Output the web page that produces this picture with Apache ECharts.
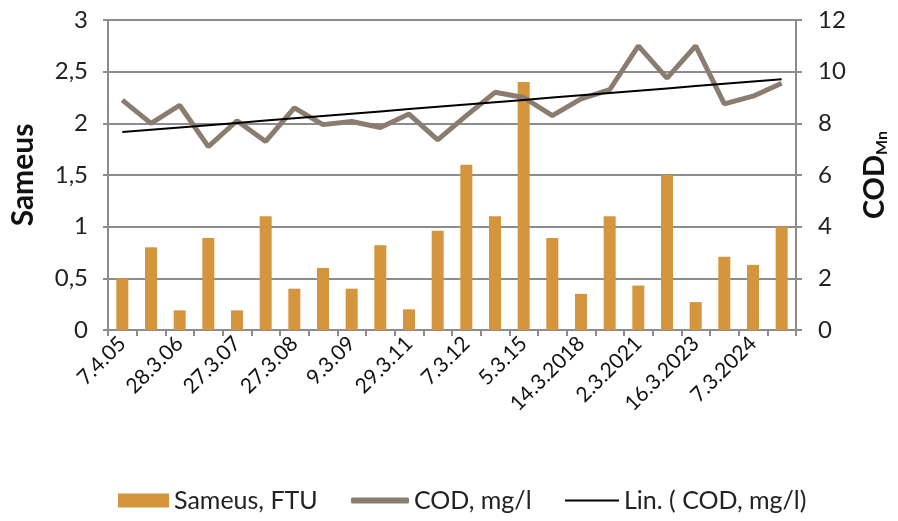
<!DOCTYPE html>
<html>
<head>
<meta charset="utf-8">
<script src="https://cdn.jsdelivr.net/npm/echarts@6/dist/echarts.min.js"></script>
<style>html,body{margin:0;padding:0;background:#fff}#c{width:898px;height:521px}</style>
</head>
<body>
<div id="c"></div>
<script>
const categories = ['7.4.05','','28.3.06','','27.3.07','','27.3.08','','9.3.09','','29.3.11','',
  '7.3.12','','5.3.15','','14.3.2018','','2.3.2021','','16.3.2023','','7.3.2024',''];
const sameus = [0.5,0.8,0.19,0.89,0.19,1.1,0.4,0.6,0.4,0.82,0.2,0.96,
  1.6,1.1,2.4,0.89,0.35,1.1,0.43,1.5,0.27,0.71,0.63,1.0];
const cod = [8.9,8.0,8.7,7.1,8.1,7.3,8.6,7.95,8.07,7.84,8.36,7.36,
  8.3,9.2,9.0,8.3,8.95,9.3,11.0,9.75,11.0,8.75,9.05,9.55];
const leftTicks = {min:0, max:3, interval:0.5};
const rightTicks = {min:0, max:12, interval:2};
const seriesNames = ['Sameus, FTU','COD, mg/l','Lin. ( COD, mg/l)'];

// linear trend (least squares) of COD
const n = cod.length;
const mx = (n-1)/2;
const my = cod.reduce((a,b)=>a+b,0)/n;
let sxy=0, sxx=0;
cod.forEach((v,i)=>{sxy+=(i-mx)*(v-my); sxx+=(i-mx)*(i-mx);});
const slope = sxy/sxx, icpt = my - slope*mx;
const trend = cod.map((v,i)=>+(icpt+slope*i).toFixed(4));

const FONT = 'Lato';
const grey = '#8c8c8c';
const barColor = '#D4953D';
const codColor = '#8A7D6F';
const legendText = {fontSize:25,color:'#222',fontFamily:FONT};
const chart = echarts.init(document.getElementById('c'));
chart.setOption({
  animation:false,
  textStyle:{fontFamily:FONT},
  grid:{left:102,right:96,top:20,bottom:191},
  legend:[
    {top:483,left:113,itemWidth:51,itemHeight:14,textStyle:legendText,
     data:[{name:seriesNames[0],icon:'rect'}]},
    {top:483,left:346,itemWidth:58,itemHeight:6,textStyle:legendText,
     data:[{name:seriesNames[1],icon:'roundRect'}]},
    {top:483,left:560,itemWidth:54,itemHeight:2,textStyle:legendText,
     data:[{name:seriesNames[2],icon:'rect'}]}
  ],
  xAxis:{
    type:'category',data:categories,
    axisLine:{lineStyle:{color:grey,width:2}},
    axisTick:{show:true,interval:0,length:6,lineStyle:{color:grey,width:2}},
    axisLabel:{interval:1,rotate:45,fontSize:21,color:'#111',margin:10,fontFamily:FONT}
  },
  yAxis:[{
    type:'value',min:leftTicks.min,max:leftTicks.max,interval:leftTicks.interval,
    name:'Sameus',nameLocation:'middle',nameGap:70,
    nameTextStyle:{fontSize:30,fontWeight:'bold',color:'#111',fontFamily:FONT},
    axisLine:{show:true,lineStyle:{color:grey,width:2}},
    axisTick:{show:true,length:5,lineStyle:{color:grey,width:2}},
    splitLine:{lineStyle:{color:grey,width:2}},
    axisLabel:{fontSize:24,color:'#222',margin:20,fontFamily:FONT,
      formatter:v=>String(v).replace('.',',')}
  },{
    type:'value',position:'right',min:rightTicks.min,max:rightTicks.max,interval:rightTicks.interval,
    name:'{b|COD}{s|Mn}',nameLocation:'middle',nameGap:64,nameRotate:90,
    nameTextStyle:{rich:{
      b:{fontSize:29,fontWeight:'bold',color:'#111',fontFamily:FONT},
      s:{fontSize:16,fontWeight:'bold',color:'#111',fontFamily:FONT,padding:[14,0,0,0]}
    }},
    axisLine:{show:true,lineStyle:{color:grey,width:2}},
    axisTick:{show:true,length:6,lineStyle:{color:grey,width:2}},
    splitLine:{show:false},
    axisLabel:{fontSize:24,color:'#222',margin:22,fontFamily:FONT}
  }],
  series:[{
    name:seriesNames[0],type:'bar',yAxisIndex:0,data:sameus,barWidth:12,
    itemStyle:{color:barColor}
  },{
    name:seriesNames[1],type:'line',yAxisIndex:1,data:cod,symbol:'none',
    lineStyle:{color:codColor,width:5},itemStyle:{color:codColor}
  },{
    name:seriesNames[2],type:'line',yAxisIndex:1,data:trend,symbol:'none',
    lineStyle:{color:'#000',width:2},itemStyle:{color:'#000'}
  }]
});
</script>
</body>
</html>
